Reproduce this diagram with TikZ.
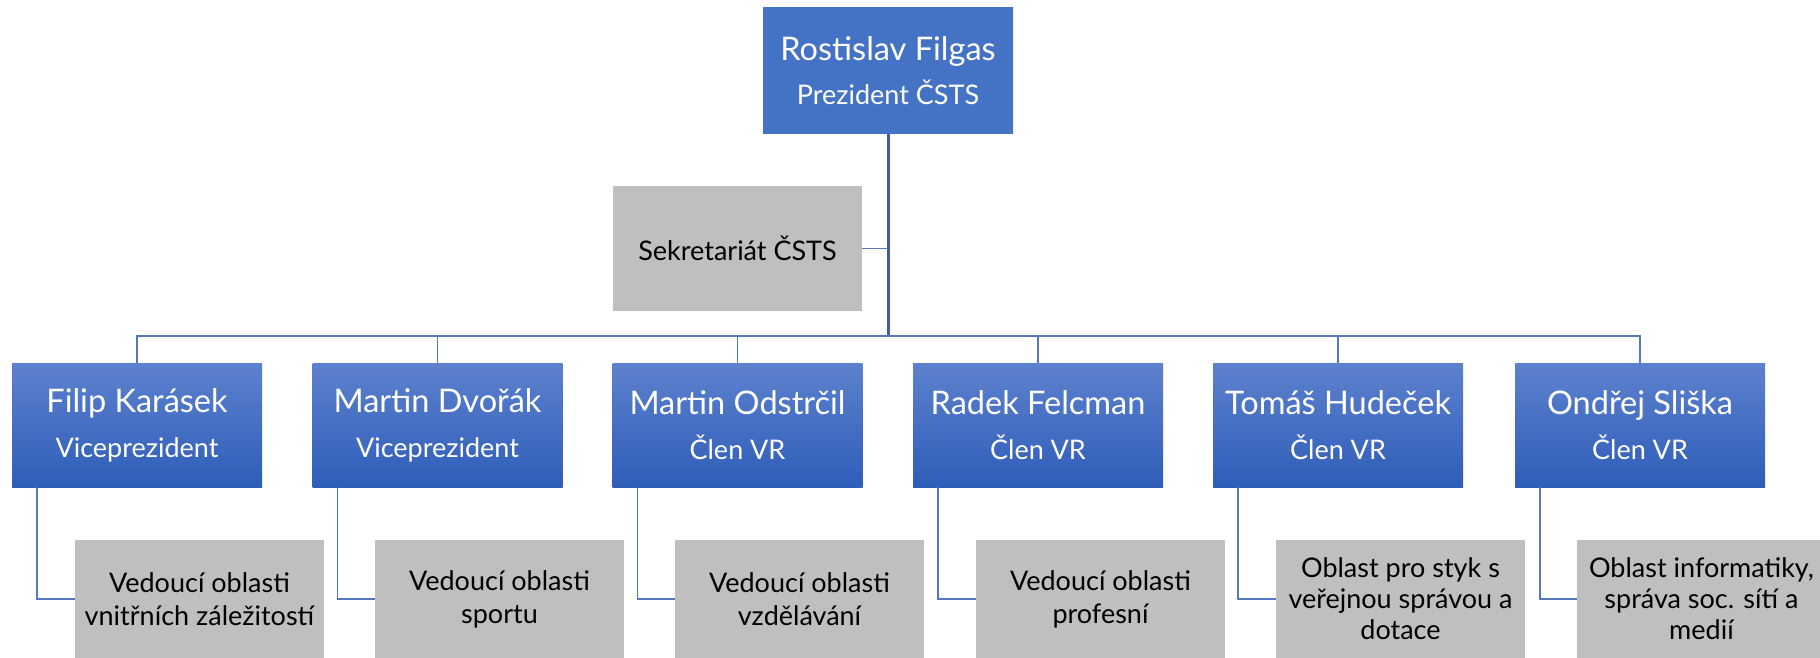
\documentclass[tikz,border=0pt]{standalone}
\usepackage{fontspec}
\setmainfont{Lato}
\definecolor{bluetop}{HTML}{5D81CE}
\definecolor{bluebot}{HTML}{2E5DB8}
\definecolor{bluesolid}{HTML}{4472C4}
\definecolor{greybox}{HTML}{BFBFBF}
\definecolor{connblue}{HTML}{5477BD}
\definecolor{mainblue}{HTML}{3F5F9F}
\begin{document}
\begin{tikzpicture}[x=1pt,y=-1pt,
  bluebox/.style={rectangle, minimum width=250pt, minimum height=124pt, inner sep=0pt,
    top color=bluetop, bottom color=bluebot, text=white, align=center,
    font=\fontsize{32.5}{45}\selectfont},
  greyboxst/.style={rectangle, minimum width=249pt, minimum height=118pt, inner sep=0pt,
    fill=greybox, text=black, align=center, font=\fontsize{27}{33}\selectfont},
  conn/.style={draw=connblue, line width=1.6pt},
  mainconn/.style={draw=mainblue, line width=3pt}]
\useasboundingbox (0,0) rectangle (1820,658);
\newcommand{\rolet}[1]{{\fontsize{27}{45}\selectfont #1}}

\node[bluebox, fill=bluesolid, top color=bluesolid, bottom color=bluesolid, minimum height=126pt,
  font=\fontsize{32.5}{44}\selectfont] (top) at (888,71) {Rostislav Filgas\\{\fontsize{27}{44}\selectfont Prezident ČSTS}};
\node[greyboxst, minimum height=125pt] (sek) at (737.5,248.5) {Sekretariát ČSTS};

\coordinate (bus) at (888,336);

\node[bluebox] (b1) at (137,425) {Filip Karásek\\\rolet{Viceprezident}};
\node[bluebox] (b2) at (437.5,425) {Martin Dvořák\\\rolet{Viceprezident}};
\node[bluebox] (b3) at (737.5,425) {Martin Odstrčil\\\rolet{Člen VR}};
\node[bluebox] (b4) at (1038,425) {Radek Felcman\\\rolet{Člen VR}};
\node[bluebox] (b5) at (1338,425) {Tomáš Hudeček\\\rolet{Člen VR}};
\node[bluebox] (b6) at (1640,425) {Ondřej Sliška\\\rolet{Člen VR}};

\node[greyboxst] (g1) at (199.5,599) {Vedoucí oblasti\\vnitřních záležitostí};
\node[greyboxst] (g2) at (499.5,599) {Vedoucí oblasti\\sportu};
\node[greyboxst] (g3) at (799.5,599) {Vedoucí oblasti\\vzdělávání};
\node[greyboxst] (g4) at (1100.5,599) {Vedoucí oblasti\\profesní};
\node[greyboxst, font=\fontsize{27}{31}\selectfont] (g5) at (1400.5,599) {Oblast pro styk s\\veřejnou správou a\\dotace};
\node[greyboxst, font=\fontsize{27}{31}\selectfont] (g6) at (1701.5,599) {Oblast informatiky,\\správa soc. sítí a\\medií};

\draw[mainconn] (top.south) -- (bus);
\draw[conn] (sek.east) -- (sek.east -| top.south);
\draw[conn] (b1.north) -- (b1.north |- bus) -- (b6.north |- bus) -- (b6.north);
\foreach \b in {b2,b3,b4,b5}
  \draw[conn] (\b.north) -- (\b.north |- bus);
\foreach \i in {1,...,6}
  \draw[conn] ([xshift=25pt]b\i.south west) |- (g\i.west);
\end{tikzpicture}
\end{document}
